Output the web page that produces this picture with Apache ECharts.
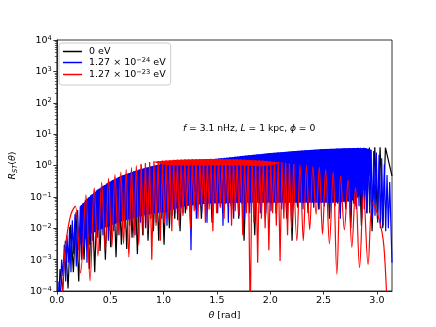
<!DOCTYPE html>
<html>
<head>
<meta charset="utf-8">
<script src="https://cdn.jsdelivr.net/npm/echarts@6/dist/echarts.min.js"></script>
<style>
  html, body { margin: 0; padding: 0; background: #fff; }
  #main { width: 436px; height: 327px; }
</style>
</head>
<body>
<div id="main"></div>
<script>
// 数据：峰值 / 谷值（对数轴）
var legendNames = ['0 eV', '1.27e-24', '1.27e-23'];
var xTicks = [0, 0.5, 1.0, 1.5, 2.0, 2.5, 3.0];

// 0 eV (黑) —— 峰从 0.03 开始，每 0.05 一个
var blackStart = 0.03, blackStep = 0.05;
var blackPeaks = [
  5e-4, 4e-3, 0.013, 0.032, 0.055, 0.085, 0.12, 0.17, 0.22, 0.28,
  0.35, 0.42, 0.5, 0.57, 0.65, 0.75, 0.84, 0.92, 1.0, 1.1,
  1.15, 1.2, 1.25, 1.3, 1.35, 1.4, 1.45, 1.5, 1.55, 1.6,
  1.65, 1.72, 1.8, 1.87, 1.95, 2.02, 2.1, 2.2, 2.3, 2.4,
  2.45, 2.55, 2.62, 2.7, 2.8, 2.9, 2.98, 3.05, 3.12, 3.2,
  3.3, 3.35, 3.4, 3.45, 3.5, 3.55, 3.6, 3.7, 3.75, 3.8,
  3.8, 3.7
];
var blackDips = [
  1e-4, 1.2e-4, 4e-4, 2e-4, 1e-3, 5e-4, 4e-4, 1.9e-3, 1e-3, 2.5e-3,
  1.2e-3, 3e-3, 2.2e-3, 5e-3, 1.5e-3, 6e-3, 4e-3, 8e-3, 4e-3, 3e-3,
  0.01, 0.02, 8e-3, 0.03, 0.01, 0.04, 0.02, 0.05, 0.015, 0.06,
  0.03, 0.07, 0.04, 0.02, 4e-3, 0.05, 6e-3, 0.06, 0.02, 0.08,
  0.03, 0.07, 0.02, 4e-3, 0.05, 0.08, 0.03, 0.1, 0.04, 0.09,
  0.02, 0.08, 0.03, 0.06, 0.01, 0.05, 0.012, 0.03, 8e-3, 0.02,
  0.01
];
var blackEnds = [[0.01, 1e-5], [Math.PI, 0.47]];

// 1.27e-24 eV (蓝) —— 峰从 0.02 开始，每 0.025 一个
var blueStart = 0.02, blueStep = 0.025;
var bluePeaks = [
  2e-4, 1e-3, 3e-3, 6e-3, 0.011, 0.018, 0.028, 0.038, 0.05, 0.063,
  0.08, 0.095, 0.115, 0.135, 0.16, 0.18, 0.21, 0.24, 0.27, 0.3,
  0.34, 0.37, 0.41, 0.45, 0.49, 0.52, 0.56, 0.6, 0.65, 0.69,
  0.74, 0.78, 0.83, 0.87, 0.91, 0.95, 1.0, 1.05, 1.1, 1.15,
  1.18, 1.2, 1.23, 1.25, 1.27, 1.3, 1.32, 1.35, 1.38, 1.4,
  1.43, 1.45, 1.48, 1.5, 1.52, 1.55, 1.57, 1.6, 1.62, 1.65,
  1.7, 1.73, 1.77, 1.8, 1.84, 1.88, 1.92, 1.95, 2.0, 2.03,
  2.08, 2.12, 2.16, 2.2, 2.25, 2.3, 2.34, 2.38, 2.43, 2.5,
  2.52, 2.55, 2.6, 2.63, 2.67, 2.7, 2.75, 2.8, 2.85, 2.9,
  2.95, 3.0, 3.03, 3.06, 3.1, 3.13, 3.17, 3.2, 3.25, 3.3,
  3.35, 3.38, 3.4, 3.43, 3.45, 3.48, 3.5, 3.52, 3.55, 3.58,
  3.6, 3.62, 3.65, 3.65, 3.6, 3.6, 3.4, 3.2, 2.9, 2.6,
  2.2, 1.7, 1.1, 0.5, 0.3
];
var blueDips = [
  5e-5, 3e-4, 2e-4, 8e-4, 4e-4, 1.5e-3, 6e-4, 2e-3, 1e-3, 2.5e-3, 8e-4, 3e-3,
  4e-3, 0.012, 5e-3, 0.015, 6e-3, 0.02, 4e-3, 0.025, 8e-3, 0.03, 6e-3, 0.035,
  0.01, 0.04, 0.012, 0.05, 6e-3, 0.045, 0.015, 0.06, 0.01, 0.055, 0.02, 0.07,
  0.015, 0.08, 0.02, 0.07, 0.012, 0.09, 0.025, 0.1, 0.018, 0.085, 0.03, 0.1,
  0.09, 2e-3, 0.1, 0.02, 0.12, 0.03, 0.1, 0.015, 0.13, 0.04, 0.12, 0.03,
  0.05, 0.012, 0.06, 0.015, 0.05, 0.02, 0.07, 0.025, 0.06, 0.02, 0.08, 0.03,
  0.07, 0.025, 0.08, 0.03, 0.09, 0.03, 0.08, 0.035, 0.1, 0.03, 0.09, 0.04,
  0.1, 0.035, 0.11, 0.04, 0.1, 0.045, 0.12, 0.04, 0.11, 0.05, 0.12, 0.045,
  0.08, 0.04, 0.1, 0.05, 0.07, 0.03, 0.09, 0.05, 0.06, 0.02, 0.08, 0.04,
  0.07, 0.03, 0.06, 0.04, 0.05, 0.02, 0.04, 0.03, 0.03, 0.02, 0.025, 0.015,
  0.01, 0.012, 0.008, 0.01
];
var blueEnds = [[0.008, 1e-5], [Math.PI, 8e-4]];
// 蓝色振荡太密的地方画成实心带：上沿 / 下沿
var blueBandTheta = [0.22, 0.3, 0.4, 0.5, 0.6, 0.7, 0.8, 0.9, 1.0, 1.1, 1.2, 1.3, 1.4, 1.5, 1.6,
  1.7, 1.8, 1.9, 2.0, 2.1, 2.2, 2.3, 2.4, 2.5, 2.6, 2.7, 2.8, 2.9, 2.95];
var blueBandTop = [0.05, 0.098, 0.185, 0.31, 0.46, 0.61, 0.79, 0.96, 1.16, 1.22, 1.35, 1.45, 1.55, 1.65, 1.78,
  1.95, 2.12, 2.3, 2.5, 2.65, 2.85, 3.03, 3.17, 3.35, 3.45, 3.55, 3.62, 3.55, 3.1];
var blueBandLow = [0.003, 0.006, 0.009, 0.012, 0.016, 0.02, 0.025, 0.03, 0.032, 0.04, 0.05, 0.055, 0.06, 0.063, 0.063,
  0.065, 0.065, 0.065, 0.065, 0.065, 0.065, 0.065, 0.065, 0.065, 0.065, 0.07, 0.08, 0.2, 0.8];

// 1.27e-23 eV (红) —— 峰位置不等距
var redPeakTheta = [
  0.173, 0.272, 0.35, 0.42, 0.485, 0.545, 0.6, 0.65, 0.7, 0.745,
  0.79, 0.83, 0.87, 0.91, 0.95, 0.99, 1.025, 1.06, 1.095, 1.13,
  1.165, 1.2, 1.235, 1.27, 1.305, 1.34, 1.375, 1.41, 1.445, 1.48,
  1.515, 1.55, 1.585, 1.62, 1.655, 1.69, 1.725, 1.76, 1.795, 1.83,
  1.865, 1.9, 1.935, 1.97, 2.005, 2.04, 2.075, 2.11, 2.145, 2.18,
  2.22, 2.28, 2.34, 2.4, 2.46, 2.52, 2.59, 2.66, 2.73, 2.8,
  2.875, 2.96
];
var redPeaks = [
  0.051, 0.117, 0.195, 0.29, 0.39, 0.51, 0.62, 0.74, 0.87, 1.0,
  1.1, 1.2, 1.28, 1.35, 1.4, 1.45, 1.48, 1.5, 1.52, 1.54,
  1.56, 1.57, 1.58, 1.6, 1.6, 1.61, 1.62, 1.62, 1.63, 1.63,
  1.63, 1.62, 1.62, 1.61, 1.6, 1.6, 1.58, 1.57, 1.55, 1.53,
  1.5, 1.48, 1.45, 1.42, 1.38, 1.35, 1.31, 1.27, 1.23, 1.18,
  1.12, 1.05, 1.0, 0.93, 0.87, 0.76, 0.63, 0.47, 0.35, 0.2,
  0.138, 0.066
];
var redDips = [
  3.8e-4, 2.1e-4, 1.3e-3, 2e-3, 2.5e-3, 6e-3, 3.2e-3, 1.2e-3, 5e-3, 3e-3,
  6e-3, 8e-3, 1e-3, 0.012, 4e-3, 0.015, 0.02, 0.008, 0.03, 0.012,
  0.025, 0.04, 0.01, 0.035, 0.02, 0.05, 0.015, 0.04, 0.008, 0.03,
  0.045, 0.02, 0.05, 0.012, 0.035, 0.025, 0.006, 0.03, 1e-5, 0.015,
  8e-4, 0.02, 0.01, 2e-3, 0.03, 0.012, 9e-4, 0.02, 0.006, 0.01,
  4e-3, 4e-3, 9e-3, 0.028, 6.5e-3, 3.2e-3, 3.4e-4, 9e-3, 2.5e-3, 5.6e-4,
  7e-4
];
var redHead = [[0.045, 1e-5], [0.07, 1.2e-3], [0.1, 8e-3], [0.135, 0.03]];
var redTail = [[3.02, 0.02], [3.065, 2.8e-3], [3.1, 1e-5]];
// 红色顶部密集区的实心带
var redBandTheta = [0.9, 1.0, 1.1, 1.2, 1.3, 1.4, 1.5, 1.6, 1.7, 1.8, 1.9, 2.0, 2.1];
var redBandTop = [1.32, 1.42, 1.5, 1.55, 1.58, 1.6, 1.6, 1.58, 1.55, 1.5, 1.45, 1.35, 1.25];
var redBandLow = [1.3, 1.05, 1.0, 1.0, 1.0, 1.0, 1.0, 1.0, 1.0, 0.98, 0.95, 1.0, 1.23];

// 拼成折线点
function zigzag(start, step, peaks, dips) {
  var pts = [];
  for (var i = 0; i < peaks.length; i++) {
    var t = start + i * step;
    pts.push([t, peaks[i]]);
    if (i < dips.length) pts.push([t + step / 2, dips[i]]);
  }
  return pts;
}
var blackData = [blackEnds[0]].concat(zigzag(blackStart, blackStep, blackPeaks, blackDips), [blackEnds[1]]);
var blueData = [blueEnds[0]].concat(zigzag(blueStart, blueStep, bluePeaks, blueDips), [blueEnds[1]]);
var redData = redHead.slice();
for (var i = 0; i < redPeakTheta.length; i++) {
  redData.push([redPeakTheta[i], redPeaks[i]]);
  if (i < redDips.length) redData.push([(redPeakTheta[i] + redPeakTheta[i + 1]) / 2, redDips[i]]);
}
redData = redData.concat(redTail);
// 两端的拱形用平滑曲线，中间密集段用直线
var redLeft = redData.filter(function (p) { return p[0] <= 0.79; });
var redMid = redData.filter(function (p) { return p[0] >= 0.79 && p[0] <= 2.22; });
var redRight = redData.filter(function (p) { return p[0] >= 2.22; });

var FONT = 'DejaVu Sans';
var richText = {
  b: { fontSize: 9.5, fontFamily: FONT, color: '#000', lineHeight: 11, verticalAlign: 'bottom' },
  sup: { fontSize: 6.7, fontFamily: FONT, color: '#000', lineHeight: 9, verticalAlign: 'top', padding: [0, 0, 5, 0] },
  i: { fontSize: 9.5, fontFamily: FONT, color: '#000', fontStyle: 'italic', lineHeight: 11, verticalAlign: 'top' },
  n: { fontSize: 9.5, fontFamily: FONT, color: '#000', lineHeight: 11, verticalAlign: 'top' },
  sub: { fontSize: 6.7, fontFamily: FONT, color: '#000', fontStyle: 'italic', lineHeight: 9, verticalAlign: 'bottom', padding: [4, 0, 0, 0] }
};
var legendLabel = {
  '0 eV': '{b|0 eV}',
  '1.27e-24': '{b|1.27 × 10}{sup|−24}{b| eV}',
  '1.27e-23': '{b|1.27 × 10}{sup|−23}{b| eV}'
};

function lineSeries(name, color, data, smooth, z) {
  return {
    name: name, type: 'line', data: data, z: z,
    symbol: 'none', showSymbol: false, smooth: smooth, clip: true,
    lineStyle: { color: color, width: 1.2 },
    itemStyle: { color: color },
    emphasis: { disabled: true }, silent: true
  };
}
// 实心带：用坐标轴把数值换成像素，画一个多边形
function bandSeries(color, theta, top, low, z) {
  var data = theta.map(function (t, i) { return [t, top[i], low[i]]; });
  return {
    type: 'custom', silent: true, data: data, z: z,
    encode: { x: 0, y: [1, 2] },
    renderItem: function (params, api) {
      if (params.dataIndex !== 0) return null;
      var pts = [];
      data.forEach(function (d) { pts.push(api.coord([d[0], d[1]])); });
      data.slice().reverse().forEach(function (d) { pts.push(api.coord([d[0], d[2]])); });
      return { type: 'polygon', shape: { points: pts }, style: { fill: color } };
    }
  };
}

var myChart = echarts.init(document.getElementById('main'));
var option = {
  animation: false,
  textStyle: { fontFamily: FONT },
  grid: { left: 54, right: 44, top: 40, bottom: 36, show: true, borderColor: '#000', borderWidth: 0.8 },
  legend: {
    z: 20,
    data: legendNames.map(function (n) { return { name: n, icon: 'rect' }; }),
    orient: 'vertical', left: 59, top: 43,
    itemWidth: 19, itemHeight: 1.5, itemGap: 0,
    padding: [4, 5, 4, 4],
    borderColor: '#cccccc', borderWidth: 1, borderRadius: 3,
    backgroundColor: 'rgba(255,255,255,0.8)',
    selectedMode: false,
    formatter: function (name) { return legendLabel[name]; },
    textStyle: { padding: [0, 0, 0, 2], rich: richText }
  },
  xAxis: {
    type: 'value', min: 0, max: Math.PI, interval: 0.5,
    name: '{i|θ}{n| [rad]}', nameLocation: 'middle', nameGap: 17,
    nameTextStyle: { rich: richText },
    axisLine: { lineStyle: { color: '#000', width: 0.8 } },
    axisTick: { length: 3.5, lineStyle: { color: '#000', width: 0.8 } },
    axisLabel: {
      margin: 5, color: '#000', fontSize: 9.5, fontFamily: FONT, showMaxLabel: false,
      formatter: function (v) { return xTicks.indexOf(v) >= 0 ? v.toFixed(1) : ''; }
    },
    splitLine: { show: false }
  },
  yAxis: {
    type: 'log', logBase: 10, min: 1e-4, max: 1e4, interval: 1,
    name: '{i|R}{sub|ST}{n|(}{i|θ}{n|)}', nameLocation: 'middle', nameGap: 32, nameRotate: 90,
    nameTextStyle: { rich: richText },
    axisLine: { lineStyle: { color: '#000', width: 0.8 } },
    axisTick: { length: 3.5, lineStyle: { color: '#000', width: 0.8 } },
    minorTick: { show: true, splitNumber: 9, length: 2, lineStyle: { color: '#000', width: 0.6 } },
    axisLabel: {
      margin: 5, rich: richText,
      formatter: function (v) {
        var e = Math.round(Math.log10(v));
        return '{b|10}{sup|' + (e < 0 ? '−' + (-e) : e) + '}';
      }
    },
    splitLine: { show: false }
  },
  graphic: [{
    type: 'text', left: 183, top: 124, silent: true,
    style: {
      text: '{i|f} {n|= 3.1 nHz,} {i|L} {n|= 1 kpc,} {i|ϕ} {n|= 0}',
      font: '9px "DejaVu Sans"', fill: '#000',
      rich: {
        i: { fontSize: 9.2, fontFamily: FONT, fontStyle: 'italic', color: '#000' },
        n: { fontSize: 9.2, fontFamily: FONT, color: '#000' }
      }
    }
  }],
  series: [
    lineSeries('0 eV', '#000000', blackData, false, 2),
    bandSeries('#0000ff', blueBandTheta, blueBandTop, blueBandLow, 3),
    lineSeries('1.27e-24', '#0000ff', blueData, false, 4),
    bandSeries('#ff0000', redBandTheta, redBandTop, redBandLow, 5),
    lineSeries('1.27e-23', '#ff0000', redLeft, 0.35, 6),
    lineSeries('1.27e-23', '#ff0000', redMid, false, 6),
    lineSeries('1.27e-23', '#ff0000', redRight, 0.35, 6)
  ]
};
myChart.setOption(option);
</script>
</body>
</html>
